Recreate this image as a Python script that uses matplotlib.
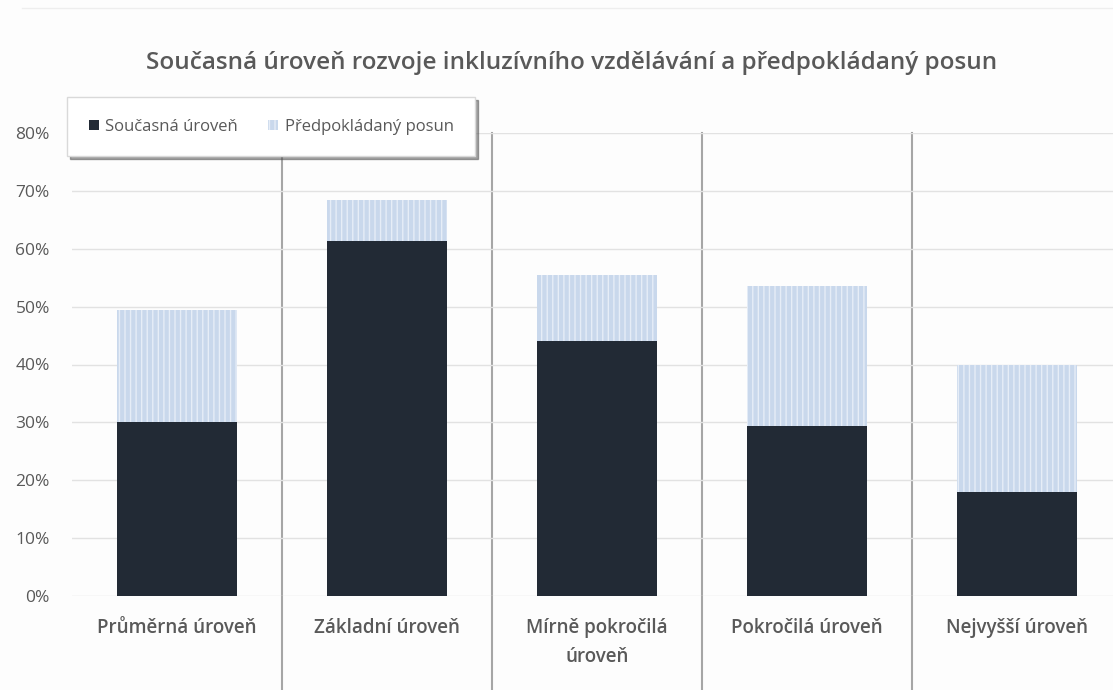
import numpy as np
import matplotlib
matplotlib.use('Agg')
import matplotlib.pyplot as plt
from matplotlib.lines import Line2D

plt.rcParams['font.family'] = ['Open Sans', 'DejaVu Sans']
plt.rcParams['hatch.linewidth'] = 1.0

# data (podíly)
categories = ['Průměrná úroveň', 'Základní úroveň', 'Mírně pokročilá\núroveň',
              'Pokročilá úroveň', 'Nejvyšší úroveň']
soucasna = [0.301, 0.613, 0.441, 0.293, 0.179]
posun = [0.193, 0.072, 0.113, 0.242, 0.220]
yticks = [0, 0.1, 0.2, 0.3, 0.4, 0.5, 0.6, 0.7, 0.8]

dark = '#222a35'
light = '#c9d8ec'
text_col = '#595959'
bg = '#fdfdfd'

fig = plt.figure(figsize=(11.13, 6.9), dpi=100, facecolor=bg)
ax = fig.add_axes([72 / 1113, 94 / 690, 1050 / 1113, 463 / 690], facecolor=bg)

x = np.arange(len(categories))
ax.bar(x, soucasna, width=0.57, color=dark, label='Současná úroveň', zorder=3)
ax.bar(x, posun, width=0.57, bottom=soucasna, color=light, edgecolor='#e6edf7',
       linewidth=0, hatch='|||', label='Předpokládaný posun', zorder=3)

ax.set_xlim(-0.5, len(categories) - 0.5)
ax.set_ylim(0, 0.8)
ax.set_yticks(yticks)
ax.set_yticklabels(['%d%%' % round(v * 100) for v in yticks])
ax.set_xticks(x)
ax.set_xticklabels(categories)
ax.tick_params(axis='y', length=0, pad=16, labelsize=12.5, labelcolor=text_col)
ax.tick_params(axis='x', length=0, pad=16, labelsize=13.5, labelcolor=text_col)
for lab in ax.get_xticklabels():
    lab.set_fontweight('semibold')
    lab.set_linespacing(1.6)

ax.grid(axis='y', color='#e2e2e2', linewidth=1, zorder=0)
for s in ax.spines.values():
    s.set_visible(False)

# svislé oddělovače kategorií
for xs in x[:-1] + 0.5:
    ax.axvline(xs, ymin=-0.21, ymax=1, color='#a6a6a6', linewidth=1.5,
               clip_on=False, zorder=1)

fig.text(572 / 1113, 1 - 63 / 690,
         'Současná úroveň rozvoje inkluzívního vzdělávání a předpokládaný posun',
         ha='center', va='center', fontsize=17.5, fontweight='semibold', color=text_col)

fig.add_artist(Line2D([0.02, 1], [1 - 8 / 690, 1 - 8 / 690], color='#eeeeee', linewidth=1))

leg = fig.legend(loc='upper left', bbox_to_anchor=(67 / 1113, 1 - 97 / 690), ncol=2,
                 frameon=True, fancybox=False, shadow=True, framealpha=1,
                 fontsize=12, handlelength=0.6, handleheight=0.6, handletextpad=0.4,
                 columnspacing=1.8, borderpad=1.3, borderaxespad=0,
                 edgecolor='#d9d9d9')
for t in leg.get_texts():
    t.set_color(text_col)

fig.savefig('out.png', dpi=100, facecolor=bg)
